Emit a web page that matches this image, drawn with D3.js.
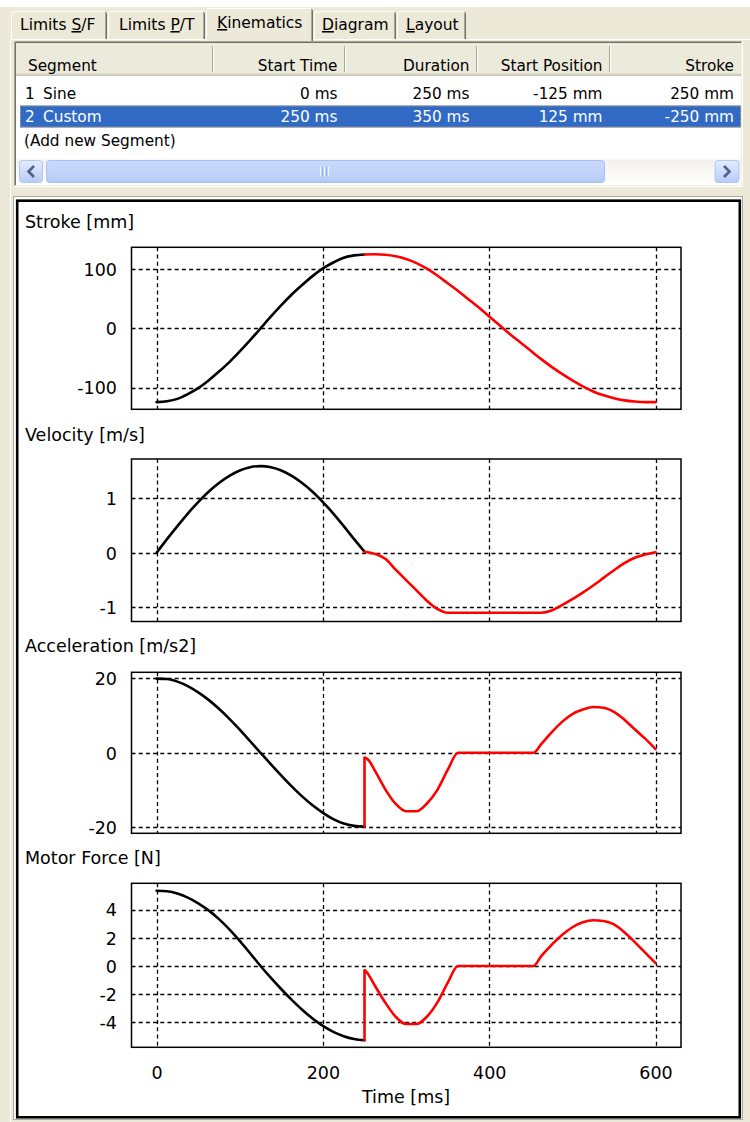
<!DOCTYPE html>
<html>
<head>
<meta charset="utf-8">
<script src="https://cdn.jsdelivr.net/npm/d3@7"></script>
<style>
  html, body { margin: 0; padding: 0; background: #ECE9D8; }
  svg { display: block; font-family: "DejaVu Sans", Verdana, sans-serif; }
</style>
</head>
<body>
<svg id="view" width="750" height="1122"></svg>
<script>
// ---- tab strip ----
const tabLabels = ["Limits S/F", "Limits P/T", "Kinematics", "Diagram", "Layout"];
const tabMnemonics = [7, 7, 0, 0, 0];   // index of the underlined access-key letter
const activeTab = 2;

// ---- segment table ----
const tableColumns = ["Segment", "Start Time", "Duration", "Start Position", "Stroke"];
const segmentIds = [1, 2];
const segmentTypes = ["Sine", "Custom"];
const startTimes = ["0 ms", "250 ms"];
const durations = ["250 ms", "350 ms"];
const startPositions = ["-125 mm", "125 mm"];
const strokes = ["250 mm", "-250 mm"];
const addRowLabel = "(Add new Segment)";
const selectedRow = 1;

// ---- kinematic curves: [time ms, value] ----
const strokeSine = [[0,-124.5],[12.5,-123],[25,-119],[37.5,-111],[50,-101],[62.5,-88],[75,-73],[87.5,-57],[100,-39],[112.5,-20],[125,0],[137.5,20],[150,39],[162.5,57],[175,73],[187.5,88],[200,101],[212.5,111],[225,119],[237.5,123],[250,124.5]];
const strokeCustom = [[250,124.5],[262.5,124.8],[275,124],[287.5,121.5],[300,117],[312.5,110],[325,100.5],[337.5,89],[350,76],[362.5,63],[375,49],[387.5,35],[400,20],[412.5,5],[425,-10],[437.5,-24],[450,-38],[462.5,-52],[475,-65],[487.5,-77],[500,-88],[512.5,-98],[525,-106.5],[537.5,-113],[550,-118],[562.5,-121.5],[575,-123.5],[587.5,-124.5],[600,-124.5]];

const velocitySine = [[0,0],[12.5,0.25],[25,0.49],[37.5,0.72],[50,0.93],[62.5,1.12],[75,1.28],[87.5,1.41],[100,1.51],[112.5,1.57],[125,1.59],[137.5,1.57],[150,1.51],[162.5,1.41],[175,1.28],[187.5,1.12],[200,0.93],[212.5,0.72],[225,0.49],[237.5,0.25],[250,0.02]];
const velocityCustom = [[250,0.02],[262.5,-0.02],[275,-0.11],[287.5,-0.31],[300,-0.5],[312.5,-0.69],[325,-0.88],[337.5,-1.03],[350,-1.1],[400,-1.1],[462.5,-1.1],[475,-1.06],[487.5,-0.96],[500,-0.85],[512.5,-0.73],[525,-0.6],[537.5,-0.46],[550,-0.32],[562.5,-0.19],[575,-0.09],[587.5,-0.03],[600,0.01]];

const accelSine = [[0,19.9],[12.5,19.8],[25,19.1],[37.5,17.9],[50,16.2],[62.5,14.2],[75,11.8],[87.5,9.1],[100,6.2],[112.5,3.1],[125,0],[137.5,-3.1],[150,-6.1],[162.5,-9.0],[175,-11.7],[187.5,-14.1],[200,-16.1],[212.5,-17.8],[225,-19.0],[237.5,-19.6],[250,-19.8]];
const accelCustom = [[250,-19.8],[250,-1.3],[255,-2.0],[262.5,-4.8],[275,-9.8],[287.5,-13.7],[300,-15.7],[312.5,-15.7],[325,-13.6],[337.5,-10.0],[350,-4.6],[362.5,0],[453,0],[462.5,2.3],[475,5.5],[487.5,8.3],[500,10.4],[512.5,11.6],[525,12.3],[537.5,12.1],[550,11.0],[562.5,8.9],[575,6.3],[587.5,3.8],[600,1.0]];

const forceSine = [[0,5.34],[12.5,5.3],[25,5.14],[37.5,4.85],[50,4.45],[62.5,3.95],[75,3.33],[87.5,2.6],[100,1.78],[112.5,0.9],[125,0],[137.5,-0.85],[150,-1.65],[162.5,-2.4],[175,-3.1],[187.5,-3.72],[200,-4.25],[212.5,-4.67],[225,-4.98],[237.5,-5.18],[250,-5.27]];
const forceCustom = [[250,-5.27],[250,-0.3],[252,-0.4],[262.5,-1.4],[275,-2.6],[287.5,-3.6],[300,-4.12],[312.5,-4.12],[325,-3.6],[337.5,-2.6],[350,-1.2],[362.5,0],[453,0],[462.5,0.7],[475,1.5],[487.5,2.2],[500,2.75],[512.5,3.1],[525,3.25],[537.5,3.2],[550,2.95],[562.5,2.4],[575,1.7],[587.5,0.95],[600,0.2]];

// ---- axes ----
const timeTicks = [0, 200, 400, 600];
const timeDomain = [-30.2, 630.6];
const timeTitle = "Time [ms]";
const panelTitles = ["Stroke [mm]", "Velocity [m/s]", "Acceleration [m/s2]", "Motor Force [N]"];
const panelTicks = [[-100, 0, 100], [-1, 0, 1], [-20, 0, 20], [-4, -2, 0, 2, 4]];
const panelDomains = [[-136.6, 136.6], [-1.26, 1.72], [-21.6, 21.6], [-5.77, 5.87]];
const sineSeries = [strokeSine, velocitySine, accelSine, forceSine];
const customSeries = [strokeCustom, velocityCustom, accelCustom, forceCustom];

// ================= drawing =================
const BEIGE = "#ECE9D8";
const svg = d3.select("#view");
const defs = svg.append("defs");
const crisp = v => Math.round(v) + 0.5;
const plainNumber = d => String(d);   // ASCII hyphen for negatives

svg.append("rect").attr("width", 750).attr("height", 1122).attr("fill", BEIGE);
svg.append("rect").attr("width", 750).attr("height", 7).attr("fill", "#FFFFFF");

// --- tab strip ---
const tabEdges = [[11, 107], [108, 205], [206, 313], [314, 396], [397, 466]];
const tabTextX = [20, 119, 217, 322, 406];

// tab page border (white highlight)
svg.append("line").attr("x1", 10).attr("x2", 750).attr("y1", 39.5).attr("y2", 39.5)
  .attr("stroke", "#FFFFFF");
svg.append("line").attr("x1", 10.5).attr("x2", 10.5).attr("y1", 39.5).attr("y2", 1122)
  .attr("stroke", "#FFFFFF");

tabLabels.forEach((label, i) => {
  const [x0, x1] = tabEdges[i];
  const active = i === activeTab;
  const top = active ? 8 : 11;
  const bottom = active ? 41 : 39;
  const g = svg.append("g");
  g.append("rect").attr("x", x0).attr("y", top).attr("width", x1 - x0).attr("height", bottom - top)
    .attr("fill", BEIGE);
  g.append("path")
    .attr("d", `M${x0 + 0.5},${bottom} V${top + 2.5} Q${x0 + 0.5},${top + 0.5} ${x0 + 2.5},${top + 0.5} H${x1 - 2}`)
    .attr("fill", "none").attr("stroke", "#FFFFFF");
  g.append("path")
    .attr("d", `M${x1 - 1.5},${top + 1.5} Q${x1 - 0.5},${top + 1.5} ${x1 - 0.5},${top + 2.5} V${bottom}`)
    .attr("fill", "none").attr("stroke", "#716F64");
  g.append("line").attr("x1", x1 - 1.5).attr("x2", x1 - 1.5).attr("y1", top + 2).attr("y2", bottom)
    .attr("stroke", "#ACA899");
  const t = g.append("text").attr("x", tabTextX[i]).attr("y", active ? 28 : 30)
    .attr("font-size", 15.5).attr("fill", "#000");
  const k = tabMnemonics[i];
  t.append("tspan").text(label.slice(0, k));
  t.append("tspan").attr("text-decoration", "underline").text(label.slice(k, k + 1));
  t.append("tspan").text(label.slice(k + 1));
});

// --- segment list view ---
const listX0 = 14, listX1 = 743, listY0 = 41, listY1 = 187;
svg.append("rect").attr("x", listX0).attr("y", listY0).attr("width", listX1 - listX0).attr("height", listY1 - listY0)
  .attr("fill", "#FFFFFF");
// sunken border
svg.append("path").attr("d", `M${listX0 + 0.5},${listY1} V${listY0 + 0.5} H${listX1}`)
  .attr("fill", "none").attr("stroke", "#ACA899");
svg.append("path").attr("d", `M${listX0 + 1.5},${listY1 - 1} V${listY0 + 1.5} H${listX1 - 1}`)
  .attr("fill", "none").attr("stroke", "#716F64");
svg.append("path").attr("d", `M${listX0},${listY1 - 0.5} H${listX1 - 0.5} V${listY0}`)
  .attr("fill", "none").attr("stroke", "#FFFFFF");
svg.append("path").attr("d", `M${listX0 + 1},${listY1 - 1.5} H${listX1 - 1.5} V${listY0 + 1}`)
  .attr("fill", "none").attr("stroke", "#F1EFE2");

// header
const colEdges = [16, 212.5, 344.5, 476.5, 609.5, 741];
const headerY0 = 43, headerY1 = 76;
svg.append("rect").attr("x", 16).attr("y", headerY0).attr("width", 725).attr("height", headerY1 - headerY0)
  .attr("fill", "#EBEADB");
svg.append("line").attr("x1", 16).attr("x2", 741).attr("y1", headerY1 - 2.5).attr("y2", headerY1 - 2.5).attr("stroke", "#E2DECD");
svg.append("line").attr("x1", 16).attr("x2", 741).attr("y1", headerY1 - 1.5).attr("y2", headerY1 - 1.5).attr("stroke", "#D6D2C2");
svg.append("line").attr("x1", 16).attr("x2", 741).attr("y1", headerY1 - 0.5).attr("y2", headerY1 - 0.5).attr("stroke", "#CBC7B8");
colEdges.slice(1, 5).forEach(x => {
  svg.append("line").attr("x1", x).attr("x2", x).attr("y1", headerY0 + 3).attr("y2", headerY1 - 4).attr("stroke", "#ACA899");
  svg.append("line").attr("x1", x + 1).attr("x2", x + 1).attr("y1", headerY0 + 3).attr("y2", headerY1 - 4).attr("stroke", "#FFFFFF");
});
const tableFont = 15.3;
tableColumns.forEach((c, i) => {
  const left = i === 0;
  svg.append("text")
    .attr("x", left ? 28 : colEdges[i + 1] - 7)
    .attr("y", 70.5)
    .attr("text-anchor", left ? "start" : "end")
    .attr("font-size", tableFont).attr("fill", "#000").text(c);
});

// rows
const rowBaselines = [98.5, 122, 145.5];
const rowTop = [82.5, 105.5, 128.5];
segmentIds.forEach((id, r) => {
  const sel = r === selectedRow;
  const color = sel ? "#FFFFFF" : "#000000";
  if (sel) {
    svg.append("rect").attr("x", 20).attr("y", rowTop[r]).attr("width", 721).attr("height", 22)
      .attr("fill", "#316AC5");
    svg.append("rect").attr("x", 20.5).attr("y", rowTop[r] + 0.5).attr("width", 720).attr("height", 21)
      .attr("fill", "none").attr("stroke", "#D9A85A").attr("stroke-dasharray", "1,1");
  }
  const y = rowBaselines[r];
  svg.append("text").attr("x", 25).attr("y", y).attr("font-size", tableFont).attr("fill", color).text(id);
  svg.append("text").attr("x", 43).attr("y", y).attr("font-size", tableFont).attr("fill", color).text(segmentTypes[r]);
  [startTimes[r], durations[r], startPositions[r], strokes[r]].forEach((v, c) => {
    svg.append("text").attr("x", colEdges[c + 2] - 7).attr("y", y).attr("text-anchor", "end")
      .attr("font-size", tableFont).attr("fill", color).text(v);
  });
});
svg.append("text").attr("x", 24).attr("y", rowBaselines[2]).attr("font-size", tableFont).attr("fill", "#000").text(addRowLabel);

// horizontal scroll bar
const sbY0 = 159.5, sbH = 24;
const trackGrad = defs.append("linearGradient").attr("id", "track").attr("x1", 0).attr("x2", 0).attr("y1", 0).attr("y2", 1);
trackGrad.append("stop").attr("offset", 0).attr("stop-color", "#F3F1EC");
trackGrad.append("stop").attr("offset", 1).attr("stop-color", "#FEFEFB");
const btnGrad = defs.append("linearGradient").attr("id", "btn").attr("x1", 0).attr("x2", 0).attr("y1", 0).attr("y2", 1);
btnGrad.append("stop").attr("offset", 0).attr("stop-color", "#E3ECFE");
btnGrad.append("stop").attr("offset", 1).attr("stop-color", "#B8CCF9");
const thumbGrad = defs.append("linearGradient").attr("id", "thumb").attr("x1", 0).attr("x2", 0).attr("y1", 0).attr("y2", 1);
thumbGrad.append("stop").attr("offset", 0).attr("stop-color", "#CAD9FC");
thumbGrad.append("stop").attr("offset", 0.5).attr("stop-color", "#C3D4FB");
thumbGrad.append("stop").attr("offset", 1).attr("stop-color", "#B4C9F7");

svg.append("rect").attr("x", 17).attr("y", sbY0).attr("width", 724).attr("height", sbH).attr("fill", "url(#track)");
[[19.5, 23], [715, 24]].forEach(([x, w]) => {
  svg.append("rect").attr("x", x).attr("y", sbY0 + 1).attr("width", w).attr("height", sbH - 2).attr("rx", 3)
    .attr("fill", "url(#btn)").attr("stroke", "#B2C6F4");
});
svg.append("path").attr("d", `M34,${sbY0 + 6.5} L28.5,${sbY0 + 12} L34,${sbY0 + 17.5}`)
  .attr("fill", "none").attr("stroke", "#4D6185").attr("stroke-width", 2.6);
svg.append("path").attr("d", `M724,${sbY0 + 6.5} L729.5,${sbY0 + 12} L724,${sbY0 + 17.5}`)
  .attr("fill", "none").attr("stroke", "#4D6185").attr("stroke-width", 2.6);
svg.append("rect").attr("x", 46.5).attr("y", sbY0 + 1).attr("width", 558).attr("height", sbH - 2).attr("rx", 3)
  .attr("fill", "url(#thumb)").attr("stroke", "#A8BEF2");
[320, 322, 324, 326, 328].forEach((x, i) => {
  svg.append("line").attr("x1", x + 0.5).attr("x2", x + 0.5).attr("y1", sbY0 + 7).attr("y2", sbY0 + 17)
    .attr("stroke", i % 2 === 0 ? "#EEF4FE" : "#8CB0F8");
});

// --- diagram frame ---
const frameX0 = 13, frameX1 = 743, frameY0 = 196, frameY1 = 1120;
svg.append("rect").attr("x", frameX0).attr("y", frameY0).attr("width", frameX1 - frameX0).attr("height", frameY1 - frameY0)
  .attr("fill", "#FFFFFF");
svg.append("rect").attr("x", frameX0 + 0.5).attr("y", frameY0 + 0.5).attr("width", frameX1 - frameX0 - 1).attr("height", frameY1 - frameY0 - 1)
  .attr("fill", "none").attr("stroke", "#ACA899");
svg.append("rect").attr("x", frameX0 + 4.2).attr("y", frameY0 + 4.7).attr("width", frameX1 - frameX0 - 7.4).attr("height", frameY1 - frameY0 - 7.4)
  .attr("fill", "none").attr("stroke", "#000000").attr("stroke-width", 2.6);

// --- kinematic panels ---
const chartFont = 17.5;
const boxX0 = 131.5, boxX1 = 681;
const panelBoxes = [[247.3, 409.3], [459, 621.5], [672.3, 833.3], [883.3, 1047.3]];
const titleBaselines = [228, 441, 652, 864];

const x = d3.scaleLinear().domain(timeDomain).range([boxX0, boxX1]);

panelTitles.forEach((title, p) => {
  const [top, bottom] = panelBoxes[p];
  const y = d3.scaleLinear().domain(panelDomains[p]).range([bottom, top]);
  const g = svg.append("g");

  g.append("text").attr("x", 25).attr("y", titleBaselines[p]).attr("font-size", chartFont)
    .attr("fill", "#000").text(title);

  // dashed grid
  g.append("g").selectAll("line").data(panelTicks[p]).join("line")
    .attr("x1", boxX0).attr("x2", boxX1)
    .attr("y1", d => crisp(y(d))).attr("y2", d => crisp(y(d)))
    .attr("stroke", "#000").attr("stroke-width", 1.3).attr("stroke-dasharray", "4,3.2");
  g.append("g").selectAll("line").data(timeTicks).join("line")
    .attr("x1", d => crisp(x(d))).attr("x2", d => crisp(x(d)))
    .attr("y1", top).attr("y2", bottom)
    .attr("stroke", "#000").attr("stroke-width", 1.3).attr("stroke-dasharray", "4,3.2");

  // value axis labels
  const axis = d3.axisLeft(y).tickValues(panelTicks[p]).tickSize(0).tickPadding(0)
    .tickFormat(plainNumber);
  const ag = g.append("g").attr("transform", `translate(117,0)`).call(axis);
  ag.select(".domain").remove();
  ag.selectAll("text").attr("font-size", chartFont).attr("font-family", "DejaVu Sans, Verdana, sans-serif")
    .attr("fill", "#000").attr("x", 0).attr("dy", "0.36em");

  // plot border
  g.append("rect").attr("x", boxX0).attr("y", top).attr("width", boxX1 - boxX0).attr("height", bottom - top)
    .attr("fill", "none").attr("stroke", "#000").attr("stroke-width", 1.5);

  const line = d3.line().x(d => x(d[0])).y(d => y(d[1])).curve(d3.curveMonotoneX);
  g.append("path").attr("d", line(sineSeries[p])).attr("fill", "none")
    .attr("stroke", "#000").attr("stroke-width", 2.6).attr("stroke-linejoin", "round").attr("stroke-linecap", "round");
  g.append("path").attr("d", line(customSeries[p])).attr("fill", "none")
    .attr("stroke", "#FF0000").attr("stroke-width", 2.6).attr("stroke-linejoin", "round").attr("stroke-linecap", "round");

  // time axis only below the last panel
  if (p === panelTitles.length - 1) {
    const xa = d3.axisBottom(x).tickValues(timeTicks).tickSize(0).tickPadding(0).tickFormat(plainNumber);
    const xg = g.append("g").attr("transform", `translate(0,1079)`).call(xa);
    xg.select(".domain").remove();
    xg.selectAll("text").attr("font-size", chartFont).attr("font-family", "DejaVu Sans, Verdana, sans-serif")
      .attr("fill", "#000").attr("dy", 0).attr("y", 0);
    g.append("text").attr("x", x(300)).attr("y", 1102.5).attr("text-anchor", "middle")
      .attr("font-size", chartFont).attr("fill", "#000").text(timeTitle);
  }
});
</script>
</body>
</html>
